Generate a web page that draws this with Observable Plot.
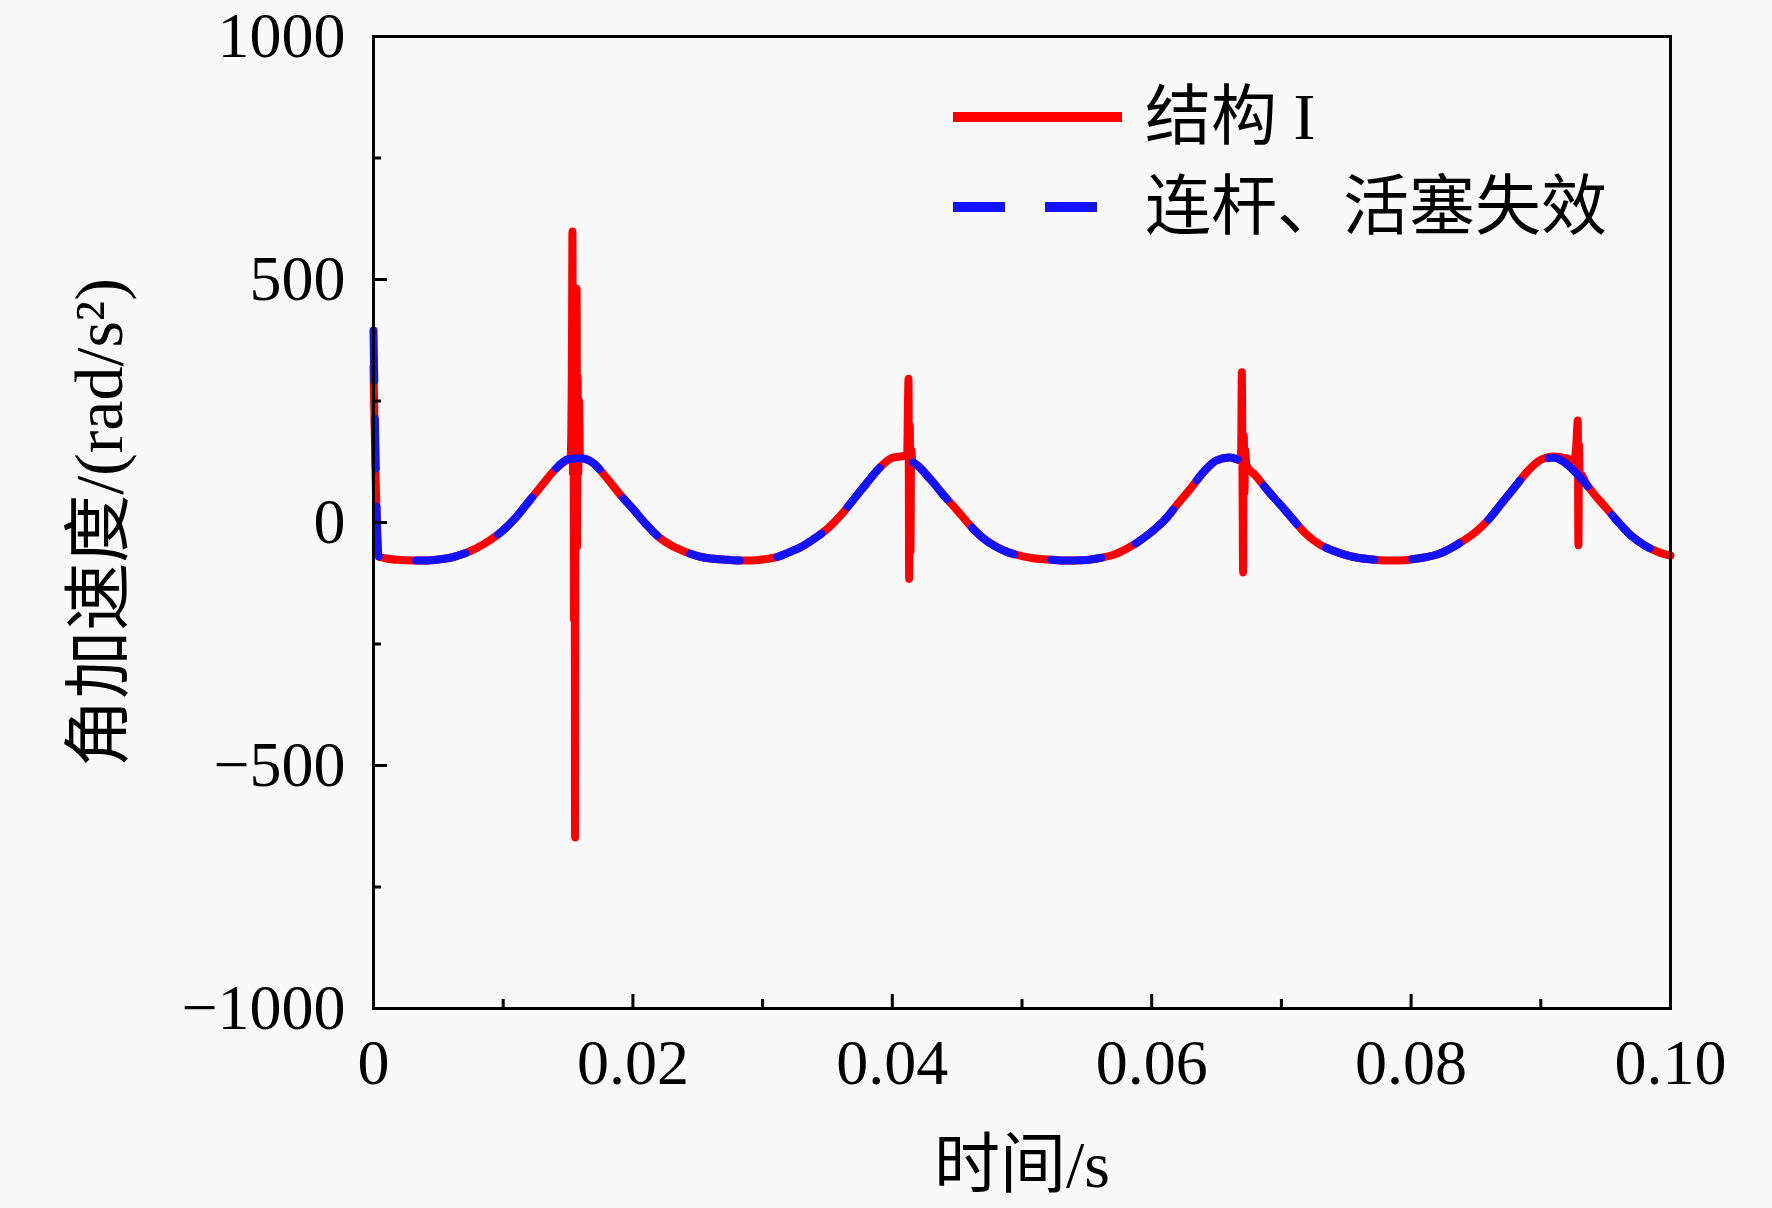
<!DOCTYPE html>
<html><head><meta charset="utf-8">
<script src="https://cdn.jsdelivr.net/npm/d3@7"></script>
<script src="https://cdn.jsdelivr.net/npm/@observablehq/plot@0.6"></script>
<style>
body{margin:0;background:#f9f9f9;}
#wrap{position:relative;width:1772px;height:1208px;}
.leg{position:absolute;display:flex;align-items:center;height:70px;font-family:"Liberation Serif","Noto Sans CJK SC",serif;font-size:66px;color:#000;line-height:1;white-space:nowrap;}
.leg span{margin-left:23px;}
</style></head><body><div id="wrap"></div>
<script>
// time in ms
const blueT = [0,0.4,1,2,3,4,5,6,7,8,9,10,11,12,13,14,15,16,17,18,19,20,21,22,23,24,25,26,27,28,29,30,31,32,33,34,35,36,37,38,39,40,41,42,43,44,45,46,47,48,49,50,51,52,53,54,55,56,57,58,59,60,61,62,63,64,65,66,67,68,69,70,71,72,73,74,75,76,77,78,79,80,81,82,83,84,85,86,87,88,89,90,91,92,93,94,95,96,97,98,99,100];
const blueV = [395,-70,-74,-77,-78,-78,-76,-72,-64,-52,-36,-16,11,44,77,109,130,132,121,91,58,28,-3,-30,-48,-60,-69,-74,-76,-78,-78,-76,-72,-62,-50,-33,-13,14,47,80,112,131,131,116,87,55,25,-6,-32,-50,-62,-69,-74,-76,-78,-78,-77,-73,-67,-55,-39,-19,5,38,70,104,128,134,124,97,64,34,3,-26,-46,-58,-67,-73,-76,-78,-78,-76,-72,-66,-54,-38,-19,7,40,73,106,129,133,120,94,62,31,0,-28,-47,-60,-68];

const redT = [0,0.4,1,2,3,4,5,6,7,8,9,10,11,12,13,14,15,
  15.2,15.3,15.34,15.38,15.42,15.46,15.5,15.54,15.58,15.62,15.66,15.7,15.74,15.78,15.85,15.92,
  16,17,18,19,20,21,22,23,24,25,26,27,28,29,30,31,32,33,34,35,36,37,38,39,40,41,
  41.15,41.2,41.25,41.3,41.35,41.4,41.45,41.55,
  42,43,44,45,46,47,48,49,50,51,52,53,54,55,56,57,58,59,60,61,62,63,64,65,66,
  66.8,66.9,66.95,67,67.05,67.1,67.15,67.2,67.3,
  68,69,70,71,72,73,74,75,76,77,78,79,80,81,82,83,84,85,86,87,88,89,90,91,92,92.6,
  92.75,92.85,92.9,92.95,93,93.05,93.5,
  94,95,96,97,98,99,100];
const redV = [320,-70,-74,-77,-78,-78,-76,-72,-64,-52,-36,-16,11,44,77,109,130,
  133,350,599,100,400,-200,350,-648,200,300,481,-50,300,100,250,132,
  132,121,91,58,28,-3,-30,-48,-60,-69,-74,-76,-78,-78,-76,-72,-62,-50,-33,-13,14,47,80,112,133,138,
  140,230,296,-116,200,-60,150,125,
  116,87,55,25,-6,-32,-50,-62,-69,-74,-76,-78,-78,-77,-73,-67,-55,-39,-19,5,38,70,104,128,134,
  128,150,309,100,-103,179,60,150,118,
  97,64,34,3,-26,-46,-58,-67,-73,-76,-78,-78,-76,-72,-66,-54,-38,-19,7,40,73,106,129,136,132,127,
  165,210,-47,160,90,100,80,
  62,31,0,-28,-47,-60,-68];

const xMajor = [0,0.02,0.04,0.06,0.08,0.10];
const xMinor = [0.01,0.03,0.05,0.07,0.09];
const yMajor = [-1000,-500,0,500,1000];
const yMinor = [-750,-250,250,750];
const seriesNames = ["结构 I","连杆、活塞失效"];
const xTitle = "时间/s";
const yTitle = "角加速度/(rad/s²)";

const blueData = blueT.map((t,i)=>({t:t/1000, v:blueV[i]}));
const redData = redT.map((t,i)=>({t:t/1000, v:redV[i]}));

const font = '"Liberation Serif","Noto Sans CJK SC",serif';
const chart = Plot.plot({
  width: 1772, height: 1208,
  marginLeft: 373, marginRight: 102, marginTop: 36, marginBottom: 200,
  style: {background: "transparent", fontFamily: font, fontSize: "64px", color: "#000"},
  x: {domain: [0, 0.1]},
  y: {domain: [-1000, 1000]},
  marks: [
    Plot.line(redData, {x: "t", y: "v", stroke: "#ff0000", strokeWidth: 8, curve: "monotone-x"}),
    Plot.line(blueData, {x: "t", y: "v", stroke: "#1212ff", strokeWidth: 8, strokeDasharray: "50,38", curve: "monotone-x"}),
    Plot.axisX({ticks: xMajor, tickSize: 0, tickPadding: 30, fontSize: 64, label: null,
      tickFormat: d => d === 0 ? "0" : d3.format(".2f")(d)}),
    Plot.axisX({ticks: xMajor, tickSize: -14, strokeWidth: 3, tickFormat: () => "", label: null}),
    Plot.axisX({ticks: xMinor, tickSize: -9, strokeWidth: 3, tickFormat: () => "", label: null}),
    Plot.axisY({ticks: yMajor, tickSize: 0, tickPadding: 28, fontSize: 64, label: null,
      tickFormat: d => (d < 0 ? "\u2212" : "") + Math.abs(d)}),
    Plot.axisY({ticks: yMajor, tickSize: -14, strokeWidth: 3, tickFormat: () => "", label: null}),
    Plot.axisY({ticks: yMinor, tickSize: -8, strokeWidth: 3, tickFormat: () => "", label: null}),
    Plot.frame({stroke: "#000", strokeWidth: 3}),
    Plot.text([xTitle], {text: d => d, frameAnchor: "bottom", dy: 178, fontSize: 66}),
    Plot.text([yTitle], {text: d => d, frameAnchor: "left", textAnchor: "middle", dx: -273, rotate: -90, fontSize: 68})
  ]
});
const wrap = document.getElementById("wrap");
wrap.appendChild(chart);

const legend = [
  {name: seriesNames[0], color: "#ff0000", dash: null, top: 82},
  {name: seriesNames[1], color: "#1212ff", dash: "52,40", top: 172}
];
for (const l of legend) {
  const div = document.createElement("div");
  div.className = "leg";
  div.style.left = "953px";
  div.style.top = l.top + "px";
  div.innerHTML = `<svg width="169" height="14"><line x1="0" y1="7" x2="169" y2="7" stroke="${l.color}" stroke-width="10" ${l.dash ? `stroke-dasharray="${l.dash}"` : ""}/></svg><span>${l.name}</span>`;
  wrap.appendChild(div);
}
</script></body></html>
